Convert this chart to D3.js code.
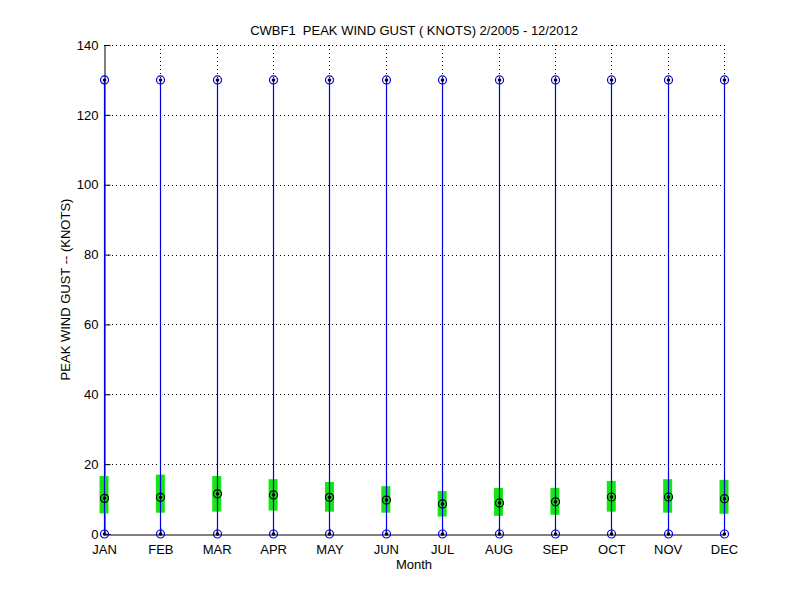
<!DOCTYPE html>
<html>
<head>
<meta charset="utf-8">
<script src="https://cdn.jsdelivr.net/npm/d3@7"></script>
<style>
  body { margin: 0; background: #fff; }
  text { font-family: "Liberation Sans", Arial, sans-serif; }
</style>
</head>
<body>
<div id="wrapper"></div>
<script>
const months = ["JAN", "FEB", "MAR", "APR", "MAY", "JUN", "JUL", "AUG", "SEP", "OCT", "NOV", "DEC"]
const maxGust = [130, 130, 130, 130, 130, 130, 130, 130, 130, 130, 130, 130]
const minGust = [0, 0, 0, 0, 0, 0, 0, 0, 0, 0, 0, 0]
const meanGust = [10.2, 10.5, 11.5, 11.2, 10.5, 9.7, 8.6, 8.9, 9.2, 10.6, 10.6, 10.1]
const upperStd = [16.6, 17.0, 16.6, 15.7, 14.9, 13.7, 12.3, 13.2, 13.2, 15.2, 15.7, 15.5]
const lowerStd = [5.9, 6.1, 6.4, 6.7, 6.4, 6.1, 5.0, 5.2, 5.5, 6.4, 6.1, 5.8]
const yTicks = [0, 20, 40, 60, 80, 100, 120, 140]

const dataset = months.map((m, i) => ({
  month: m,
  max: maxGust[i],
  min: minGust[i],
  mean: meanGust[i],
  hi: upperStd[i],
  lo: lowerStd[i],
}))

let dimensions = {
  width: 800,
  height: 600,
  margin: { top: 45, right: 76, bottom: 66, left: 104 },
}
dimensions.boundedWidth = dimensions.width - dimensions.margin.left - dimensions.margin.right
dimensions.boundedHeight = dimensions.height - dimensions.margin.top - dimensions.margin.bottom

const wrapper = d3.select("#wrapper")
  .append("svg")
  .attr("width", dimensions.width)
  .attr("height", dimensions.height)

const bounds = wrapper.append("g")
  .attr("transform", `translate(${dimensions.margin.left},${dimensions.margin.top})`)

const xScale = d3.scalePoint()
  .domain(months)
  .range([0, dimensions.boundedWidth])

const yScale = d3.scaleLinear()
  .domain([0, 140])
  .range([dimensions.boundedHeight, 0])

// dotted grid
bounds.append("g")
  .selectAll("line")
  .data(yTicks.filter(d => d > 0))
  .join("line")
  .attr("x1", 0)
  .attr("x2", dimensions.boundedWidth)
  .attr("y1", d => Math.round(yScale(d)) + 0.5)
  .attr("y2", d => Math.round(yScale(d)) + 0.5)
  .attr("stroke", "#000")
  .attr("stroke-dasharray", "1,3")

bounds.append("g")
  .selectAll("line")
  .data(months.slice(1))
  .join("line")
  .attr("x1", d => Math.round(xScale(d)) + 0.5)
  .attr("x2", d => Math.round(xScale(d)) + 0.5)
  .attr("y1", 0)
  .attr("y2", dimensions.boundedHeight)
  .attr("stroke", "#000")
  .attr("stroke-dasharray", "1,3")

// axes
const yAxisGenerator = d3.axisLeft(yScale)
  .tickValues(yTicks)
  .tickSizeInner(-6)
  .tickSizeOuter(0)
  .tickPadding(6)
const yAxis = bounds.append("g")
  .attr("transform", "translate(0.5,0)")
  .call(yAxisGenerator)
yAxis.selectAll("text")
  .style("font-size", "13px")
  .attr("fill", "#000")
  .attr("font-family", "Liberation Sans, Arial, sans-serif")
yAxis.select(".domain").attr("stroke", "#000")

const xAxisGenerator = d3.axisBottom(xScale)
  .tickSizeInner(-6)
  .tickSizeOuter(0)
  .tickPadding(10)
const xAxis = bounds.append("g")
  .attr("transform", `translate(0,${dimensions.boundedHeight + 0.5})`)
  .call(xAxisGenerator)
xAxis.selectAll("text")
  .style("font-size", "13px")
  .attr("fill", "#000")
  .attr("font-family", "Liberation Sans, Arial, sans-serif")
xAxis.select(".domain").attr("stroke", "#000")

// std bars
bounds.append("g")
  .selectAll("rect")
  .data(dataset)
  .join("rect")
  .attr("x", d => xScale(d.month) - 4.5)
  .attr("width", 9)
  .attr("y", d => yScale(d.hi))
  .attr("height", d => yScale(d.lo) - yScale(d.hi))
  .attr("fill", "#14e614")

// min-max lines
bounds.append("g")
  .selectAll("line")
  .data(dataset)
  .join("line")
  .attr("x1", d => Math.round(xScale(d.month)) + 0.5)
  .attr("x2", d => Math.round(xScale(d.month)) + 0.5)
  .attr("y1", d => yScale(d.min))
  .attr("y2", d => yScale(d.max))
  .attr("stroke", "#0000d8")
  .attr("stroke-width", 1.2)

// markers
const drawMarkers = (accessor, color) => {
  const g = bounds.append("g")
  g.selectAll("circle.ring")
    .data(dataset)
    .join("circle")
    .attr("class", "ring")
    .attr("cx", d => Math.round(xScale(d.month)) + 0.5)
    .attr("cy", d => yScale(accessor(d)))
    .attr("r", 4)
    .attr("fill", "none")
    .attr("stroke", color)
    .attr("stroke-width", 1.2)
  g.selectAll("circle.dot")
    .data(dataset)
    .join("circle")
    .attr("class", "dot")
    .attr("cx", d => Math.round(xScale(d.month)) + 0.5)
    .attr("cy", d => yScale(accessor(d)))
    .attr("r", 1.8)
    .attr("fill", "#000")
}
drawMarkers(d => d.max, "#0000d8")
drawMarkers(d => d.min, "#0000d8")
drawMarkers(d => d.mean, "#000")

// labels
wrapper.append("text")
  .attr("x", dimensions.margin.left + dimensions.boundedWidth / 2)
  .attr("y", 35)
  .attr("text-anchor", "middle")
  .style("font-size", "13px")
  .style("white-space", "pre")
  .text("CWBF1  PEAK WIND GUST ( KNOTS) 2/2005 - 12/2012")

wrapper.append("text")
  .attr("x", dimensions.margin.left + dimensions.boundedWidth / 2)
  .attr("y", 569)
  .attr("text-anchor", "middle")
  .style("font-size", "13px")
  .text("Month")

wrapper.append("text")
  .attr("transform", `translate(70,${dimensions.margin.top + dimensions.boundedHeight / 2}) rotate(-90)`)
  .attr("text-anchor", "middle")
  .style("font-size", "13px")
  .text("PEAK WIND GUST -- (KNOTS)")
</script>
</body>
</html>
